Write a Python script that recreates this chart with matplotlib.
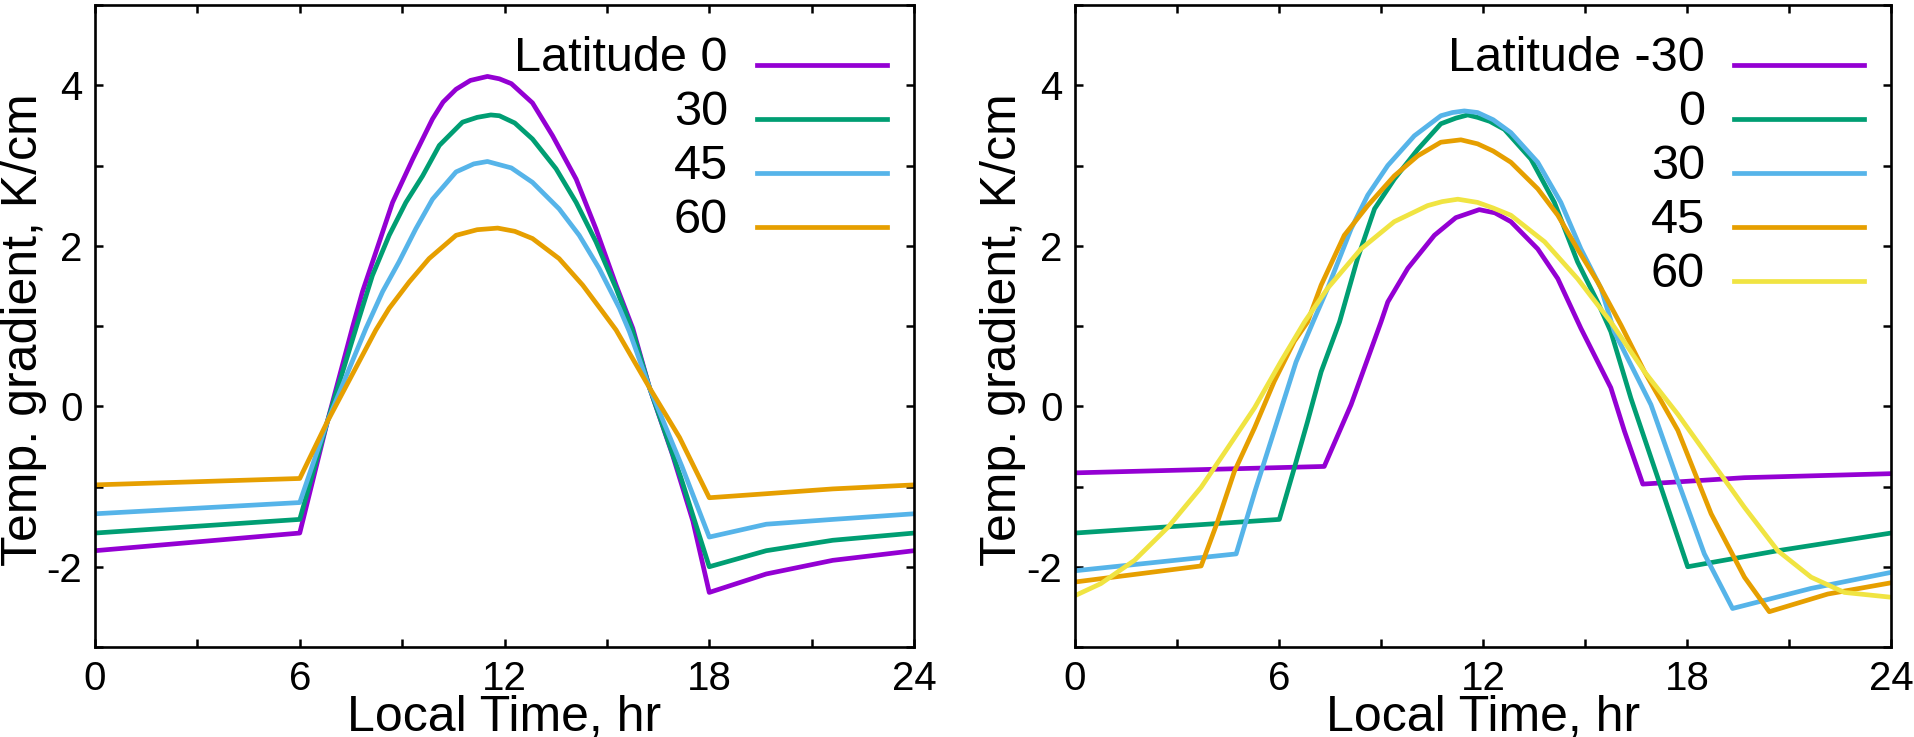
import matplotlib
matplotlib.use('Agg')
import numpy as np
import matplotlib.pyplot as plt
from matplotlib.ticker import MultipleLocator
from matplotlib.lines import Line2D
from matplotlib.legend_handler import HandlerLine2D

# left panel: latitudes 0, 30, 45, 60
left_labels = ['Latitude 0', '30', '45', '60']
left_t0 = [0, 6.0, 6.81, 7.55, 7.84, 8.23, 8.72, 9.31, 9.89, 10.2, 10.58, 11.0, 11.5, 11.85, 12.2, 12.82,
           13.41, 14.1, 14.68, 15.27, 15.76, 16.25, 16.92, 17.52, 18.0, 19.67, 21.62, 24]
left_v0 = [-1.80, -1.58, -0.19, 0.99, 1.43, 1.92, 2.54, 3.08, 3.58, 3.79, 3.95, 4.06, 4.11, 4.08, 4.02, 3.78,
           3.37, 2.83, 2.21, 1.51, 0.97, 0.23, -0.60, -1.43, -2.32, -2.09, -1.92, -1.80]
left_t30 = [0, 6.0, 6.81, 7.74, 8.13, 8.62, 9.11, 9.6, 10.09, 10.77, 11.2, 11.6, 11.85, 12.3, 12.82, 13.51,
            14.1, 14.68, 15.27, 15.76, 16.25, 17.17, 18.0, 19.67, 21.62, 24]
left_v30 = [-1.58, -1.41, -0.19, 1.10, 1.63, 2.13, 2.54, 2.87, 3.25, 3.54, 3.60, 3.63, 3.62, 3.53, 3.33, 2.96,
            2.54, 2.05, 1.47, 0.93, 0.23, -0.89, -2.00, -1.80, -1.67, -1.58]
left_t45 = [0, 6.0, 6.81, 7.94, 8.43, 8.91, 9.4, 9.89, 10.58, 11.1, 11.5, 12.2, 12.82, 13.6, 14.19, 14.77,
            15.37, 15.66, 16.25, 17.2, 18.0, 19.67, 21.62, 24]
left_v45 = [-1.34, -1.20, -0.19, 0.97, 1.43, 1.80, 2.21, 2.58, 2.92, 3.02, 3.05, 2.97, 2.79, 2.46, 2.13, 1.72,
            1.22, 0.93, 0.23, -0.75, -1.63, -1.47, -1.41, -1.34]
left_t60 = [0, 6.0, 6.81, 8.23, 8.62, 9.21, 9.79, 10.58, 11.2, 11.8, 12.3, 12.82, 13.6, 14.29, 14.87, 15.27,
            16.25, 17.13, 18.0, 19.67, 21.62, 24]
left_v60 = [-0.98, -0.90, -0.19, 0.95, 1.22, 1.55, 1.84, 2.13, 2.20, 2.22, 2.18, 2.09, 1.84, 1.51, 1.18, 0.95,
            0.23, -0.39, -1.14, -1.09, -1.03, -0.98]

# right panel: latitudes -30, 0, 30, 45, 60
right_labels = ['Latitude -30', '0', '30', '45', '60']
right_tm30 = [0, 7.33, 8.12, 9.0, 9.2, 9.79, 10.57, 11.2, 11.89, 12.35, 12.82, 13.61, 14.2, 14.88, 15.76,
              16.16, 16.7, 19.69, 24]
right_vm30 = [-0.83, -0.75, 0.02, 1.05, 1.30, 1.72, 2.13, 2.35, 2.45, 2.41, 2.30, 1.96, 1.59, 0.97, 0.23,
              -0.31, -0.97, -0.89, -0.84]
right_t0 = [0, 6.01, 6.45, 6.84, 7.24, 7.78, 8.31, 8.81, 9.39, 10.08, 10.76, 11.2, 11.55, 11.84, 12.2, 12.63,
            13.41, 14.1, 14.78, 15.37, 15.76, 16.35, 17.14, 18.02, 20.67, 24]
right_v0 = [-1.58, -1.41, -0.77, -0.19, 0.43, 1.05, 1.84, 2.46, 2.83, 3.20, 3.52, 3.59, 3.63, 3.60, 3.55, 3.45,
            3.08, 2.54, 1.80, 1.30, 0.93, 0.10, -0.89, -2.00, -1.80, -1.58]
right_t30 = [0, 4.74, 5.3, 5.9, 6.5, 7.0, 7.43, 8.12, 8.61, 9.2, 9.98, 10.76, 11.1, 11.45, 11.84, 12.3, 12.82,
             13.61, 14.29, 14.88, 15.47, 15.86, 16.94, 17.73, 18.51, 19.34, 21.65, 24]
right_v30 = [-2.05, -1.84, -1.05, -0.25, 0.55, 1.05, 1.47, 2.21, 2.63, 3.00, 3.37, 3.62, 3.66, 3.68, 3.66, 3.57,
             3.41, 3.04, 2.54, 1.96, 1.47, 0.93, 0.02, -0.93, -1.84, -2.52, -2.27, -2.07]
right_t45 = [0, 3.71, 4.2, 4.69, 5.28, 5.86, 6.45, 6.84, 7.24, 7.92, 8.61, 9.39, 10.08, 10.76, 11.35, 11.84,
             12.3, 12.82, 13.61, 14.2, 14.78, 15.37, 16.06, 16.75, 17.73, 18.71, 19.69, 20.42, 22.14, 24]
right_v45 = [-2.19, -1.99, -1.43, -0.81, -0.27, 0.31, 0.81, 1.05, 1.51, 2.13, 2.50, 2.87, 3.12, 3.29, 3.32,
             3.27, 3.18, 3.04, 2.71, 2.38, 1.96, 1.55, 1.01, 0.43, -0.30, -1.34, -2.13, -2.56, -2.34, -2.20]
right_t60 = [0, 0.76, 1.75, 2.73, 3.71, 4.49, 5.28, 6.06, 6.75, 7.43, 8.41, 9.39, 10.37, 10.8, 11.26, 11.84,
             12.3, 12.82, 13.81, 14.78, 15.76, 16.75, 17.73, 18.71, 19.69, 20.67, 21.65, 22.63, 24]
right_v60 = [-2.36, -2.21, -1.92, -1.51, -1.01, -0.52, -0.02, 0.56, 1.05, 1.47, 1.96, 2.30, 2.50, 2.55, 2.58,
             2.54, 2.47, 2.38, 2.05, 1.59, 1.05, 0.43, -0.10, -0.68, -1.26, -1.80, -2.13, -2.32, -2.38]

colors = ['#9400d3', '#009e73', '#56b4e9', '#e69f00', '#f0e442']

left_series = [(left_t0, left_v0), (left_t30, left_v30), (left_t45, left_v45), (left_t60, left_v60)]
right_series = [(right_tm30, right_vm30), (right_t0, right_v0), (right_t30, right_v30),
                (right_t45, right_v45), (right_t60, right_v60)]

plt.rcParams['font.family'] = ['Liberation Sans', 'DejaVu Sans']
plt.rcParams['axes.unicode_minus'] = False


class LowLine(HandlerLine2D):
    # legend sample sits just above the text baseline, like gnuplot
    def create_artists(self, legend, orig_handle, xdescent, ydescent, width, height, fontsize, trans):
        arts = super().create_artists(legend, orig_handle, xdescent, ydescent, width, height, fontsize, trans)
        for a in arts:
            a.set_ydata(np.asarray(a.get_ydata(), dtype=float) - 0.23 * fontsize)
        return arts


fig = plt.figure(figsize=(19.14, 7.37), dpi=100)
ax1 = fig.add_axes([95 / 1914, 90 / 737, 819 / 1914, 642 / 737])
ax2 = fig.add_axes([1075 / 1914, 90 / 737, 816 / 1914, 642 / 737])


def style_axes(ax, ylab_x):
    ax.set_xlim(0, 24)
    ax.set_ylim(-3, 5)
    ax.xaxis.set_major_locator(MultipleLocator(6))
    ax.xaxis.set_minor_locator(MultipleLocator(3))
    ax.set_yticks([-2, 0, 2, 4])
    ax.yaxis.set_minor_locator(MultipleLocator(1))
    for s in ax.spines.values():
        s.set_linewidth(1.9)
    ax.tick_params(which='both', direction='in', top=True, right=True, length=5.5, width=1.8,
                   labelsize=29)
    ax.tick_params(axis='x', pad=9)
    ax.tick_params(axis='y', pad=9)
    ax.set_xlabel('Local Time, hr', fontsize=36, labelpad=-2)
    ax.set_ylabel('Temp. gradient, K/cm', fontsize=36)
    ax.yaxis.set_label_coords(ylab_x, 0.495)


def draw(ax, series, labels, ylab_x):
    for (t, v), lab, c in zip(series, labels, colors):
        ax.plot(t, v, color=c, lw=3.4, label=lab)
    style_axes(ax, ylab_x)
    w = ax.get_position().width * 1914
    ax.legend(loc='upper right', bbox_to_anchor=(1 - 15 / w, 1 - 19 / 642), frameon=False,
              markerfirst=False, fontsize=35, handlelength=2.67, handletextpad=0.6,
              labelspacing=0.185, borderaxespad=0, borderpad=0.25,
              handler_map={Line2D: LowLine()})


draw(ax1, left_series, left_labels, -0.058)
draw(ax2, right_series, right_labels, -0.06)

fig.savefig('out.png', dpi=100)
